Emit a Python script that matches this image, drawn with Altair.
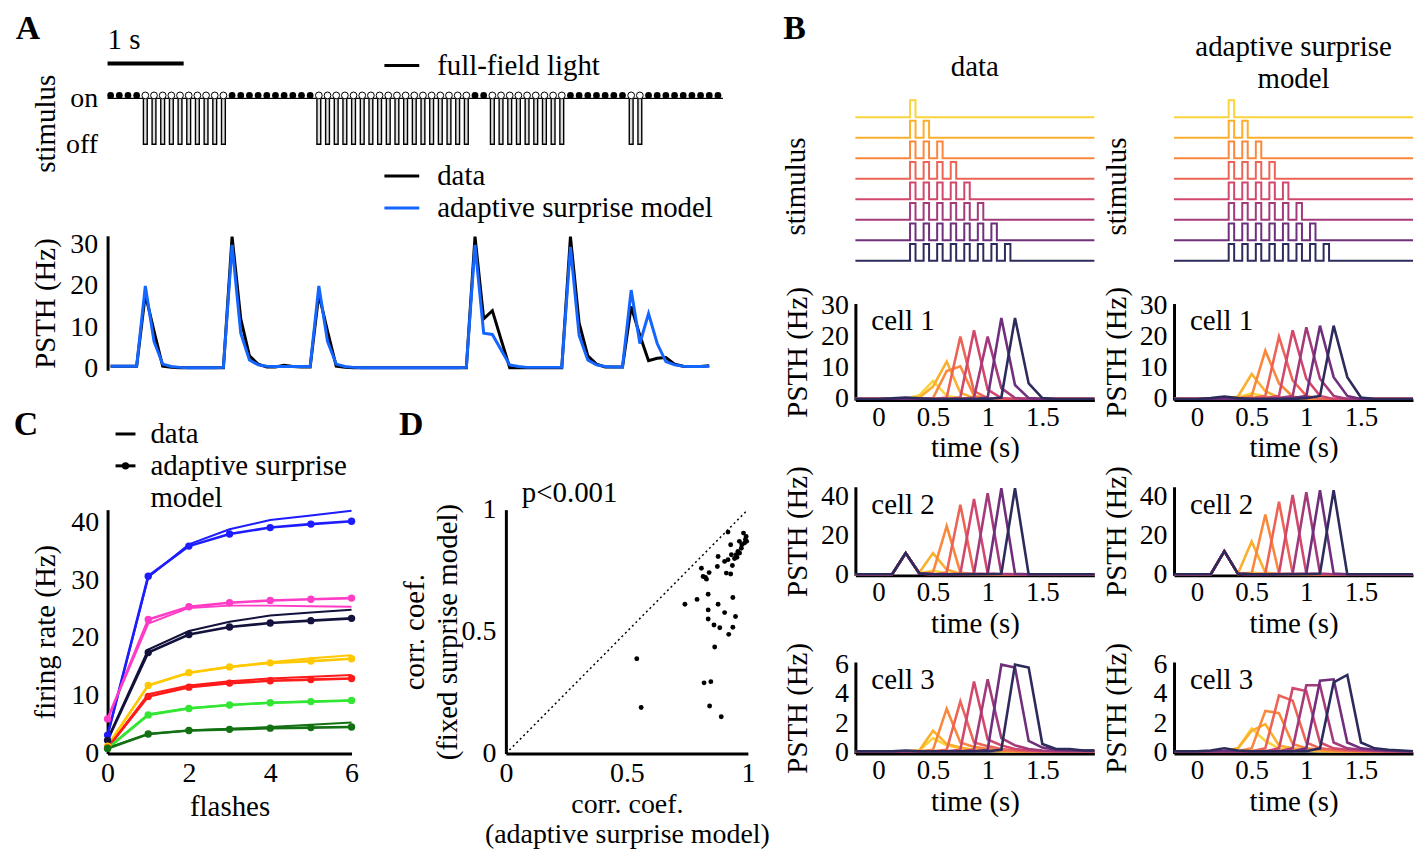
import altair as alt
import pandas as pd

FONT = "Liberation Serif"
FS = 29          # titles and free texts
FS_LBL = 28      # tick labels
LETTER_FS = 34
BLUE = "#1466ff"

# ---------------- Panel A : stimulus and PSTH ----------------
A_BIN_S = 0.114                      # seconds per stimulus bin
A_XDOM = [-0.04, 8.046]
# 1 = light on (filled circle), 0 = flash off (open circle)
A_STIM = [1, 1, 1, 1,
          0, 0, 0, 0, 0, 0, 0, 0, 0, 0,
          1, 1, 1, 1, 1, 1, 1, 1, 1, 1,
          0, 0, 0, 0, 0, 0, 0, 0, 0, 0, 0, 0, 0, 0, 0, 0, 0, 0,
          1, 1,
          0, 0, 0, 0, 0, 0, 0, 0, 0,
          1, 1, 1, 1, 1, 1, 1,
          0, 0,
          1, 1, 1, 1, 1, 1, 1, 1, 1]
A_PSTH_DATA = [0.5, 0.5, 0.5, 0.5, 18, 9, 0.5, 0.2, 0.1, 0.1,
               0.1, 0.1, 0.1, 0.1, 32, 12, 3, 1, 0.3, 0.3,
               0.7, 0.4, 0.3, 0.3, 18, 9, 0.5, 0.2, 0.1, 0.1,
               0.1, 0.1, 0.1, 0.1, 0.1, 0.1, 0.1, 0.1, 0.1, 0.1,
               0.1, 0.1, 32, 12, 14, 7, 0.1, 0.1, 0.1, 0.1,
               0.1, 0.1, 0.1, 32, 11, 3, 1, 0.3, 0.3, 0.3,
               15, 8, 1.8, 2.4, 2.6, 1.0, 0.5, 0.4, 0.4, 0.6]
A_PSTH_MODEL = [0.5, 0.5, 0.5, 0.5, 20, 6.5, 1.0, 0.4, 0.2, 0.1,
                0.1, 0.1, 0.1, 0.2, 30, 8.5, 2, 0.8, 0.5, 0.4,
                0.4, 0.4, 0.4, 0.4, 20, 6.5, 1.0, 0.4, 0.2, 0.1,
                0.1, 0.1, 0.1, 0.1, 0.1, 0.1, 0.1, 0.1, 0.1, 0.1,
                0.1, 0.2, 30, 8.5, 8.2, 4.5, 0.8, 0.4, 0.2, 0.2,
                0.2, 0.2, 0.2, 29.5, 8, 2, 0.8, 0.4, 0.3, 0.3,
                19, 6, 13.3, 6, 1.6, 0.8, 0.5, 0.4, 0.4, 0.5]
A_SCALEBAR = [-0.04, 0.96]
A_PSTH_TICKS = [0, 10, 20, 30]

# ---------------- Panel B : flash sequences ----------------
B_T = [-0.25, -0.125, 0.0, 0.125, 0.25, 0.375, 0.5, 0.625, 0.75, 0.875,
       1.0, 1.125, 1.25, 1.375, 1.5, 1.625, 1.75, 1.875, 2.0]
B_XDOM = [-0.21, 1.976]
B_FLASH_ONSETS = [0.29, 0.414, 0.538, 0.662, 0.786, 0.91, 1.034, 1.158]
B_SERIES = ["1", "2", "3", "4", "5", "6", "7", "8"]
B_COLORS = ["#f9d43c", "#fcae2d", "#fa883c", "#ec6456", "#d2486c", "#a33a7a", "#702f7c", "#2d2b5c"]
B_XTICKS = [0, 0.5, 1, 1.5]

CELL1_DATA = [
    [0, 0, 0, 0, 0, 1.2, 5.8, 1.0, 0.3, 0, 0, 0, 0, 0, 0, 0, 0, 0, 0],
    [0, 0, 0, 0, 0, 0.5, 4.0, 12.0, 2.0, 0.3, 0, 0, 0, 0, 0, 0, 0, 0, 0],
    [0, 0, 0, 0, 0, 0, 0.3, 9.0, 10.5, 1.0, 0.2, 0, 0, 0, 0, 0, 0, 0, 0],
    [0, 0, 0, 0, 0, 0, 0, 0.5, 20.0, 2.5, 0.3, 0, 0, 0, 0, 0, 0, 0, 0],
    [0, 0, 0, 0, 0, 0, 0, 0, 0.5, 22.0, 3.0, 0.3, 0, 0, 0, 0, 0, 0, 0],
    [0, 0, 0, 0, 0, 0, 0, 0, 0, 0.5, 20.0, 3.5, 0.3, 0, 0, 0, 0, 0, 0],
    [0, 0, 0, 0, 0, 0, 0, 0, 0, 0, 0.5, 26.0, 4.5, 0.3, 0, 0, 0, 0, 0],
    [0, 0, 0, 0.2, 0.5, 0.2, 0, 0, 0, 0, 0, 0.5, 26.0, 5.0, 0.3, 0, 0, 0, 0]]
CELL1_MODEL = [
    [0, 0, 0, 0, 0, 0.5, 1.8, 0.8, 0.3, 0, 0, 0, 0, 0, 0, 0, 0, 0, 0],
    [0, 0, 0, 0, 0, 0.8, 8.0, 2.5, 0.5, 0, 0, 0, 0, 0, 0, 0, 0, 0, 0],
    [0, 0, 0, 0, 0, 0.3, 1.0, 15.5, 5.0, 0.8, 0, 0, 0, 0, 0, 0, 0, 0, 0],
    [0, 0, 0, 0, 0, 0, 0.3, 1.0, 20.0, 6.0, 1.0, 0, 0, 0, 0, 0, 0, 0, 0],
    [0, 0, 0, 0, 0, 0, 0, 0.3, 1.0, 22.0, 6.5, 1.0, 0, 0, 0, 0, 0, 0, 0],
    [0, 0, 0, 0, 0, 0, 0, 0, 0.3, 1.0, 23.0, 6.5, 1.0, 0, 0, 0, 0, 0, 0],
    [0, 0, 0, 0, 0, 0, 0, 0, 0, 0.3, 1.0, 23.5, 7.0, 1.0, 0, 0, 0, 0, 0],
    [0, 0, 0, 0.3, 0.8, 0.3, 0, 0, 0, 0, 0.3, 1.0, 23.5, 7.0, 0.5, 0, 0, 0, 0]]
CELL2_DATA = [
    [0, 0, 0, 0, 11, 0.5, 2.0, 0.5, 0, 0, 0, 0, 0, 0, 0, 0, 0, 0, 0],
    [0, 0, 0, 0, 11, 1.0, 11.0, 2.5, 0.3, 0, 0, 0, 0, 0, 0, 0, 0, 0, 0],
    [0, 0, 0, 0, 11, 0.5, 1.0, 25.0, 1.0, 0, 0, 0, 0, 0, 0, 0, 0, 0, 0],
    [0, 0, 0, 0, 11, 0.5, 0, 1.0, 36.0, 0.5, 0, 0, 0, 0, 0, 0, 0, 0, 0],
    [0, 0, 0, 0, 11, 0.5, 0, 0, 0.5, 39.0, 0.5, 0, 0, 0, 0, 0, 0, 0, 0],
    [0, 0, 0, 0, 11, 0.5, 0, 0, 0, 0.5, 42.0, 0.3, 0, 0, 0, 0, 0, 0, 0],
    [0, 0, 0, 0, 11, 0.5, 0, 0, 0, 0, 0.3, 44.5, 0.3, 0, 0, 0, 0, 0, 0],
    [0, 0, 0, 0, 11, 0.5, 0, 0, 0, 0, 0, 0.3, 44.5, 0, 0, 0, 0, 0, 0]]
CELL2_MODEL = [
    [0, 0, 0, 0, 12, 0.3, 1.0, 0.3, 0, 0, 0, 0, 0, 0, 0, 0, 0, 0, 0],
    [0, 0, 0, 0, 12, 0.5, 17.0, 1.0, 0, 0, 0, 0, 0, 0, 0, 0, 0, 0, 0],
    [0, 0, 0, 0, 12, 0.3, 0.5, 31.0, 0.5, 0, 0, 0, 0, 0, 0, 0, 0, 0, 0],
    [0, 0, 0, 0, 12, 0.3, 0, 0.5, 37.5, 0.5, 0, 0, 0, 0, 0, 0, 0, 0, 0],
    [0, 0, 0, 0, 12, 0.3, 0, 0, 0.5, 41.0, 0.5, 0, 0, 0, 0, 0, 0, 0, 0],
    [0, 0, 0, 0, 12, 0.3, 0, 0, 0, 0.5, 42.5, 0.5, 0, 0, 0, 0, 0, 0, 0],
    [0, 0, 0, 0, 12, 0.3, 0, 0, 0, 0, 0.5, 43.5, 0.5, 0, 0, 0, 0, 0, 0],
    [0, 0, 0, 0, 12, 0.3, 0, 0, 0, 0, 0, 0.5, 43.5, 0, 0, 0, 0, 0, 0]]
CELL3_DATA = [
    [0.1, 0.1, 0.1, 0.1, 0.1, 0.15, 1.0, 0.5, 0.3, 0.2, 0.15, 0.1, 0.1, 0.1, 0.1, 0.1, 0.1, 0.1, 0.1],
    [0.1, 0.1, 0.1, 0.1, 0.1, 0.15, 1.5, 0.6, 0.35, 0.2, 0.15, 0.1, 0.1, 0.1, 0.1, 0.1, 0.1, 0.1, 0.1],
    [0.1, 0.1, 0.1, 0.1, 0.1, 0.1, 0.2, 3.0, 0.7, 0.4, 0.25, 0.15, 0.1, 0.1, 0.1, 0.1, 0.1, 0.1, 0.1],
    [0.1, 0.1, 0.1, 0.1, 0.1, 0.1, 0.1, 0.2, 3.5, 0.7, 0.45, 0.25, 0.15, 0.1, 0.1, 0.1, 0.1, 0.1, 0.1],
    [0.1, 0.1, 0.1, 0.1, 0.1, 0.1, 0.1, 0.1, 0.2, 4.85, 0.9, 0.5, 0.25, 0.15, 0.1, 0.1, 0.1, 0.1, 0.1],
    [0.1, 0.1, 0.1, 0.1, 0.1, 0.1, 0.1, 0.1, 0.1, 0.2, 5.0, 1.0, 0.5, 0.25, 0.15, 0.1, 0.1, 0.1, 0.1],
    [0.1, 0.1, 0.1, 0.1, 0.1, 0.1, 0.1, 0.1, 0.1, 0.1, 0.2, 6.0, 5.8, 0.8, 0.35, 0.2, 0.15, 0.15, 0.15],
    [0.1, 0.1, 0.1, 0.1, 0.15, 0.1, 0.1, 0.1, 0.1, 0.1, 0.1, 0.2, 6.0, 5.8, 0.6, 0.25, 0.25, 0.15, 0.15]]
CELL3_MODEL = [
    [0.1, 0.1, 0.1, 0.1, 0.1, 0.3, 1.65, 0.8, 0.3, 0.2, 0.15, 0.1, 0.1, 0.1, 0.1, 0.1, 0.1, 0.1, 0.1],
    [0.1, 0.1, 0.1, 0.1, 0.1, 0.3, 1.5, 1.95, 0.5, 0.3, 0.2, 0.15, 0.1, 0.1, 0.1, 0.1, 0.1, 0.1, 0.1],
    [0.1, 0.1, 0.1, 0.1, 0.1, 0.1, 0.3, 2.85, 2.7, 0.6, 0.3, 0.2, 0.15, 0.1, 0.1, 0.1, 0.1, 0.1, 0.1],
    [0.1, 0.1, 0.1, 0.1, 0.1, 0.1, 0.1, 0.3, 3.9, 3.55, 0.7, 0.3, 0.2, 0.15, 0.1, 0.1, 0.1, 0.1, 0.1],
    [0.1, 0.1, 0.1, 0.1, 0.1, 0.1, 0.1, 0.1, 0.3, 4.4, 4.2, 0.7, 0.3, 0.2, 0.15, 0.1, 0.1, 0.1, 0.1],
    [0.1, 0.1, 0.1, 0.1, 0.1, 0.1, 0.1, 0.1, 0.1, 0.3, 4.6, 4.6, 0.7, 0.3, 0.2, 0.15, 0.1, 0.1, 0.1],
    [0.1, 0.1, 0.1, 0.1, 0.1, 0.1, 0.1, 0.1, 0.1, 0.1, 0.3, 4.9, 5.0, 0.7, 0.3, 0.2, 0.15, 0.1, 0.1],
    [0.1, 0.1, 0.1, 0.15, 0.3, 0.15, 0.1, 0.1, 0.1, 0.1, 0.1, 0.3, 4.8, 5.3, 0.7, 0.3, 0.2, 0.15, 0.1]]

# ---------------- Panel C : firing rate vs flashes ----------------
C_FLASHES = [0, 1, 2, 3, 4, 5, 6]
C_CELLS = ["blue", "pink", "navy", "yellow", "red", "green", "darkgreen"]
C_COLORS = ["#1c1cff", "#ff3cc6", "#12123c", "#ffc800", "#ff1a1a", "#33e633", "#137013"]
C_DATA = [
    [3.2, 30.5, 36.2, 38.8, 40.4, 41.2, 42.0],
    [6.0, 22.5, 25.2, 25.6, 25.6, 25.5, 25.4],
    [2.5, 18.0, 21.2, 22.8, 23.9, 24.4, 24.9],
    [1.5, 11.8, 14.0, 15.0, 15.8, 16.5, 17.0],
    [1.0, 10.3, 11.8, 12.5, 13.0, 13.3, 13.6],
    [1.0, 6.8, 7.9, 8.4, 8.8, 9.0, 9.2],
    [1.0, 3.4, 4.0, 4.3, 4.6, 5.0, 5.4]]
C_MODEL = [
    [3.2, 30.7, 35.9, 38.0, 39.1, 39.7, 40.2],
    [6.0, 23.2, 25.4, 26.1, 26.5, 26.7, 26.9],
    [2.3, 17.5, 20.6, 21.9, 22.6, 23.0, 23.4],
    [1.3, 11.8, 14.0, 15.0, 15.7, 16.0, 16.4],
    [1.0, 9.9, 11.5, 12.2, 12.6, 12.8, 13.0],
    [0.9, 6.7, 7.8, 8.4, 8.8, 9.0, 9.2],
    [0.9, 3.4, 4.0, 4.2, 4.4, 4.5, 4.6]]

# ---------------- Panel D : correlation scatter ----------------
D_ADAPTIVE = [0.918, 0.982, 0.993, 0.929, 0.986, 0.975, 0.973, 0.959, 0.952, 0.966,
              0.932, 0.918, 0.904, 0.877, 0.874, 0.936, 0.808, 0.840, 0.815, 0.829,
              0.911, 0.929, 0.740, 0.790, 0.836, 0.938, 0.836, 0.877, 0.904, 0.949,
              0.836, 0.860, 0.884, 0.938, 0.921, 0.863, 0.541, 0.819, 0.847, 0.559,
              0.842, 0.890, 0.945, 0.965, 0.990, 0.995, 0.955, 0.825]
D_FIXED = [0.908, 0.904, 0.890, 0.856, 0.863, 0.856, 0.842, 0.829, 0.815, 0.822,
           0.815, 0.795, 0.788, 0.808, 0.767, 0.771, 0.760, 0.742, 0.726, 0.715,
           0.740, 0.736, 0.612, 0.632, 0.653, 0.640, 0.589, 0.612, 0.578, 0.562,
           0.552, 0.527, 0.516, 0.518, 0.489, 0.437, 0.389, 0.290, 0.295, 0.189,
           0.195, 0.151, 0.800, 0.870, 0.878, 0.870, 0.805, 0.722]
D_DIAG = [0, 1]
D_TICKS = [0, 0.5, 1]


# ---------------- helpers ----------------
def blank():
    return alt.Chart(alt.Data(values=[{"k": 0}]))


def text(s, x, y, size=FS, align="left", bold=False, color="black"):
    return blank().mark_text(text=s, font=FONT, fontSize=size, align=align, baseline="middle",
                             fontWeight="bold" if bold else "normal", color=color).encode(
        x=alt.value(x), y=alt.value(y))


def hline(x1, x2, y, color="black", width=3):
    return blank().mark_rule(color=color, strokeWidth=width).encode(
        x=alt.value(x1), x2=alt.value(x2), y=alt.value(y))


def indep(ch):
    return ch.resolve_scale(x="independent", y="independent", color="independent")


# ---------------- Panel A charts ----------------
stim_pts = [(A_XDOM[0], 1)]
pulse_rows = []
HW = 0.22 * A_BIN_S
for b, s in enumerate(A_STIM):
    if s == 0:
        c = b * A_BIN_S
        stim_pts += [(c - HW, 1), (c - HW, 0), (c + HW, 0), (c + HW, 1)]
        pulse_rows.append({"t": c - HW, "t2": c + HW, "y": 0, "y2": 1})
stim_pts.append((A_XDOM[1], 1))
stim_df = pd.DataFrame([{"t": t, "y": y, "k": k} for k, (t, y) in enumerate(stim_pts)])
pulse_df = pd.DataFrame(pulse_rows)
circ_df = pd.DataFrame({"t": [b * A_BIN_S for b in range(len(A_STIM))], "s": A_STIM})
sb_df = pd.DataFrame({"t": [A_SCALEBAR[0]], "t2": [A_SCALEBAR[1]]})

xA = alt.Scale(domain=A_XDOM, nice=False, zero=False)
yAs = alt.Scale(domain=[-0.152, 1.37], nice=False, zero=False)
axAs = alt.Axis(values=[0, 1], labelExpr="datum.value == 1 ? 'on' : 'off'", domain=False, ticks=False,
                title="stimulus", labelPadding=10, titleX=-62, titleY=42, titleBaseline="middle")

a_rect = alt.Chart(pulse_df).mark_rect(color="#dedede").encode(
    x=alt.X("t:Q", scale=xA, axis=None), x2="t2:Q",
    y=alt.Y("y:Q", scale=yAs, axis=axAs), y2="y2:Q")
a_line = alt.Chart(stim_df).mark_line(color="black", strokeWidth=1.4).encode(
    x=alt.X("t:Q", scale=xA, axis=None), y=alt.Y("y:Q", scale=yAs, axis=axAs), order="k:Q")
a_on = alt.Chart(circ_df).transform_filter("datum.s == 1").mark_point(
    shape="circle", filled=True, color="black", size=46, opacity=1).encode(
    x=alt.X("t:Q", scale=xA, axis=None), y=alt.value(14))
a_off = alt.Chart(circ_df).transform_filter("datum.s == 0").mark_point(
    shape="circle", filled=True, fill="white", stroke="black", strokeWidth=1, size=46, opacity=1).encode(
    x=alt.X("t:Q", scale=xA, axis=None), y=alt.value(14))
a_sb = alt.Chart(sb_df).mark_rule(color="black", strokeWidth=4).encode(
    x=alt.X("t:Q", scale=xA, axis=None), x2="t2:Q", y=alt.value(-18))

A_stim = alt.layer(
    a_rect, a_line, a_on, a_off, a_sb,
    text("1 s", 0, -42), text("A", -80, -53, size=LETTER_FS, align="center", bold=True),
    hline(278, 313, -16), text("full-field light", 331, -16)
).properties(width=618, height=70)

psth_df = pd.DataFrame({
    "t": [i * A_BIN_S for i in range(len(A_PSTH_DATA))],
    "data": A_PSTH_DATA, "model": A_PSTH_MODEL})
yAp = alt.Scale(domain=[-0.5, 32.2], nice=False, zero=False)
axAp = alt.Axis(values=A_PSTH_TICKS, title="PSTH (Hz)", labelPadding=10, titleX=-62, titleBaseline="middle")
a_pd = alt.Chart(psth_df).mark_line(color="black", strokeWidth=3).encode(
    x=alt.X("t:Q", scale=xA, axis=None), y=alt.Y("data:Q", scale=yAp, axis=axAp))
a_pm = alt.Chart(psth_df).mark_line(color=BLUE, strokeWidth=3).encode(
    x=alt.X("t:Q", scale=xA, axis=None), y=alt.Y("model:Q", scale=yAp, axis=axAp))
A_psth = alt.layer(
    a_pd, a_pm,
    hline(278, 313, -60), text("data", 331, -60),
    hline(278, 313, -28, color=BLUE), text("adaptive surprise model", 331, -28)
).properties(width=618, height=135)

# ---------------- Panel C chart ----------------
c_rows = []
for ci, name in enumerate(C_CELLS):
    for fi, f in enumerate(C_FLASHES):
        c_rows.append({"cell": name, "f": f, "data": C_DATA[ci][fi], "model": C_MODEL[ci][fi]})
c_df = pd.DataFrame(c_rows)
xC = alt.Scale(domain=[0, 6], nice=False, zero=False)
yC = alt.Scale(domain=[0, 42.2], nice=False, zero=False)
axCx = alt.Axis(values=[0, 2, 4, 6], title="flashes", labelPadding=6, titleY=53, titleBaseline="middle")
axCy = alt.Axis(values=[0, 10, 20, 30, 40], title="firing rate (Hz)", labelPadding=9, titleX=-62,
                titleBaseline="middle")
colC = alt.Color("cell:N", scale=alt.Scale(domain=C_CELLS, range=C_COLORS), legend=None)
c_d = alt.Chart(c_df).mark_line(strokeWidth=2).encode(
    x=alt.X("f:Q", scale=xC, axis=axCx), y=alt.Y("data:Q", scale=yC, axis=axCy), color=colC)
c_m = alt.Chart(c_df).mark_line(strokeWidth=2.6).encode(
    x=alt.X("f:Q", scale=xC, axis=axCx), y=alt.Y("model:Q", scale=yC, axis=axCy), color=colC)
c_p = alt.Chart(c_df).mark_circle(size=55, opacity=1).encode(
    x=alt.X("f:Q", scale=xC, axis=axCx), y=alt.Y("model:Q", scale=yC, axis=axCy), color=colC)
C_chart = alt.layer(
    c_d, c_m, c_p,
    hline(8, 28, -76), text("data", 43, -76),
    hline(8, 28, -44), blank().mark_circle(size=55, color="black", opacity=1).encode(
        x=alt.value(18), y=alt.value(-44)),
    text("adaptive surprise", 43, -44), text("model", 43, -12),
    text("C", -82, -85, size=LETTER_FS, align="center", bold=True)
).properties(width=245, height=245)

# ---------------- Panel D chart ----------------
d_df = pd.DataFrame({"a": D_ADAPTIVE, "f": D_FIXED})
diag_df = pd.DataFrame({"a": D_DIAG, "f": D_DIAG})
xD = alt.Scale(domain=[0, 1], nice=False, zero=False)
yD = alt.Scale(domain=[0, 1], nice=False, zero=False)
axDx = alt.Axis(values=D_TICKS, format="~g", title=["corr. coef.", "(adaptive surprise model)"],
                labelPadding=6, titleY=51, titleBaseline="middle", titleLineHeight=30, titleFontSize=28)
axDy = alt.Axis(values=D_TICKS, format="~g", title=["corr. coef.", "(fixed surprise model)"],
                labelPadding=10, titleX=-92, titleBaseline="middle", titleLineHeight=33)
d_diag = alt.Chart(diag_df).mark_line(color="black", strokeWidth=1.5, strokeDash=[2, 3]).encode(
    x=alt.X("a:Q", scale=xD, axis=axDx), y=alt.Y("f:Q", scale=yD, axis=axDy))
d_pts = alt.Chart(d_df).mark_circle(size=24, color="black", opacity=1).encode(
    x=alt.X("a:Q", scale=xD, axis=axDx), y=alt.Y("f:Q", scale=yD, axis=axDy))
D_chart = alt.layer(
    d_diag, d_pts,
    text("p<0.001", 16, -17),
    text("D", -95, -85, size=LETTER_FS, align="center", bold=True)
).properties(width=243, height=245)

# ---------------- Panel B charts ----------------
xB = alt.Scale(domain=B_XDOM, nice=False, zero=False)
colB = alt.Color("series:N", scale=alt.Scale(domain=B_SERIES, range=B_COLORS), legend=None)
PULSE_W = 0.05
PULSE_H = 0.82


def b_stim(extra, title_x):
    rows = []
    for r, name in enumerate(B_SERIES):
        base = 7 - r
        pts = [(B_XDOM[0], base)]
        for j in range(r + 1):
            t0 = B_FLASH_ONSETS[j]
            pts += [(t0, base), (t0, base + PULSE_H), (t0 + PULSE_W, base + PULSE_H), (t0 + PULSE_W, base)]
        pts.append((B_XDOM[1], base))
        for k, (t, y) in enumerate(pts):
            rows.append({"series": name, "t": t, "y": y, "k": k})
    df = pd.DataFrame(rows)
    ax = alt.Axis(title="stimulus", labels=False, ticks=False, domain=False, titleX=title_x, titleY=105,
                  titleBaseline="middle")
    ln = alt.Chart(df).mark_line(strokeWidth=2).encode(
        x=alt.X("t:Q", scale=xB, axis=None),
        y=alt.Y("y:Q", scale=alt.Scale(domain=[-0.24, 8.74], nice=False, zero=False), axis=ax),
        color=colB, order="k:Q")
    return alt.layer(ln, *extra).properties(width=240, height=185)


def b_cell(lists, ydom, yticks, label, height):
    rows = []
    for r, name in enumerate(B_SERIES):
        for i, t in enumerate(B_T):
            rows.append({"series": name, "t": t, "v": lists[r][i]})
    df = pd.DataFrame(rows)
    axx = alt.Axis(values=B_XTICKS, format="~g", title="time (s)", labelPadding=4, titleY=48,
                   titleBaseline="middle", labelFontSize=27)
    axy = alt.Axis(values=yticks, title="PSTH (Hz)", labelPadding=7, titleX=-58, titleBaseline="middle")
    ln = alt.Chart(df).mark_line(strokeWidth=2.6, clip=True).encode(
        x=alt.X("t:Q", scale=xB, axis=axx),
        y=alt.Y("v:Q", scale=alt.Scale(domain=ydom, nice=False, zero=False), axis=axy),
        color=colB)
    return alt.layer(ln, text(label, 16, 18)).properties(width=240, height=height)


def b_column(stim, cells):
    lower = indep(alt.vconcat(*cells, spacing=87, bounds="flush"))
    return indep(alt.vconcat(stim, lower, spacing=38, bounds="flush"))


col_data = b_column(
    b_stim([text("data", 120, -15, align="center"),
            text("B", -61, -53, size=LETTER_FS, align="center", bold=True)], -60),
    [b_cell(CELL1_DATA, [-0.35, 30.6], [0, 10, 20, 30], "cell 1", 97),
     b_cell(CELL2_DATA, [-0.5, 45.3], [0, 20, 40], "cell 2", 89),
     b_cell(CELL3_DATA, [-0.06, 6.18], [0, 2, 4, 6], "cell 3", 92)])
col_model = b_column(
    b_stim([text("adaptive surprise", 120, -35, align="center"),
            text("model", 120, -2, align="center")], -58),
    [b_cell(CELL1_MODEL, [-0.35, 30.6], [0, 10, 20, 30], "cell 1", 97),
     b_cell(CELL2_MODEL, [-0.5, 45.3], [0, 20, 40], "cell 2", 89),
     b_cell(CELL3_MODEL, [-0.06, 6.18], [0, 2, 4, 6], "cell 3", 92)])

# ---------------- layout ----------------
# with flush bounds a nested concat counts as zero-sized, so the spacing
# of a parent whose child is itself a concat is the full origin offset
left_top = indep(alt.vconcat(A_stim, A_psth, spacing=85, bounds="flush"))
cd = indep(alt.hconcat(C_chart, D_chart, spacing=155, bounds="flush"))
left = indep(alt.vconcat(left_top, cd, spacing=430, bounds="flush"))
right = indep(alt.hconcat(col_data, col_model, spacing=320, bounds="flush"))
chart = indep(alt.hconcat(left, right, spacing=751, bounds="flush"))

chart = chart.properties(
    padding={"left": 5, "top": 2, "right": 0, "bottom": 0}
).configure_view(stroke=None).configure_axis(
    labelFont=FONT, titleFont=FONT, labelFontSize=FS_LBL, titleFontSize=FS, titleFontWeight="normal",
    labelColor="black", titleColor="black", domainColor="black", domainWidth=3,
    ticks=False, grid=False, labelFlush=False, labelOverlap=False
).configure_text(font=FONT)

chart.save("out.html", embed_options={"renderer": "svg", "actions": False})
